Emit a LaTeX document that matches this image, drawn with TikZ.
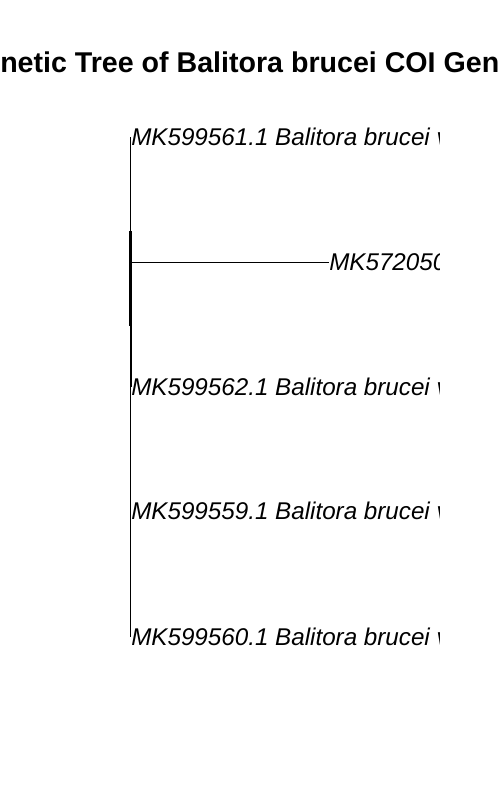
\documentclass[tikz,border=0pt]{standalone}
\usepackage{fontspec}
\setmainfont{Liberation Sans}
\tikzset{>=latex}
\usetikzlibrary{positioning}

\tikzset{
  tiplabel/.style={anchor=west, inner sep=0pt, font=\fontsize{18.15pt}{20pt}\selectfont\itshape},
  treeline/.style={line width=0.75pt},
}

\begin{document}
\begin{tikzpicture}[x=0.75pt, y=-0.75pt]
      \useasboundingbox (0,0) rectangle (499,804);
      \begin{scope}
        \clip (0,0) rectangle (499,804);
        \node[anchor=base west, inner sep=0pt, font=\fontsize{21.45pt}{24pt}\selectfont\bfseries] (title) at (0,72) {netic Tree of Balitora brucei COI Gen};
      \end{scope}
      \coordinate (top) at (130,137);
      \coordinate (bot) at (130,637);
      \coordinate (aux1) at (130,231);
      \coordinate (aux2) at (130,326);
      \coordinate (aux3) at (131,326);
      \coordinate (aux4) at (131,387);
      \coordinate (br) at (131,262);
      \begin{scope}
        \clip (0,0) rectangle (439,804);
        \node[tiplabel] (t1) at (131,137) {MK599561.1 Balitora brucei v};
        \node[tiplabel] (t2) at (329,262) {MK572050};
        \node[tiplabel] (t3) at (131,387) {MK599562.1 Balitora brucei v};
        \node[tiplabel] (t4) at (131,511) {MK599559.1 Balitora brucei v};
        \node[tiplabel] (t5) at (131,637) {MK599560.1 Balitora brucei v};
      \end{scope}
      \draw[treeline] (top) -- (bot);
      \draw[line width=2.25pt] (aux1) -- (aux2);
      \draw[treeline] (aux3) -- (aux4);
      \draw[treeline] (br) -- (t2.west);
      %\draw[treeline] (aux4) -- (t3.west);
\end{tikzpicture}
\end{document}
